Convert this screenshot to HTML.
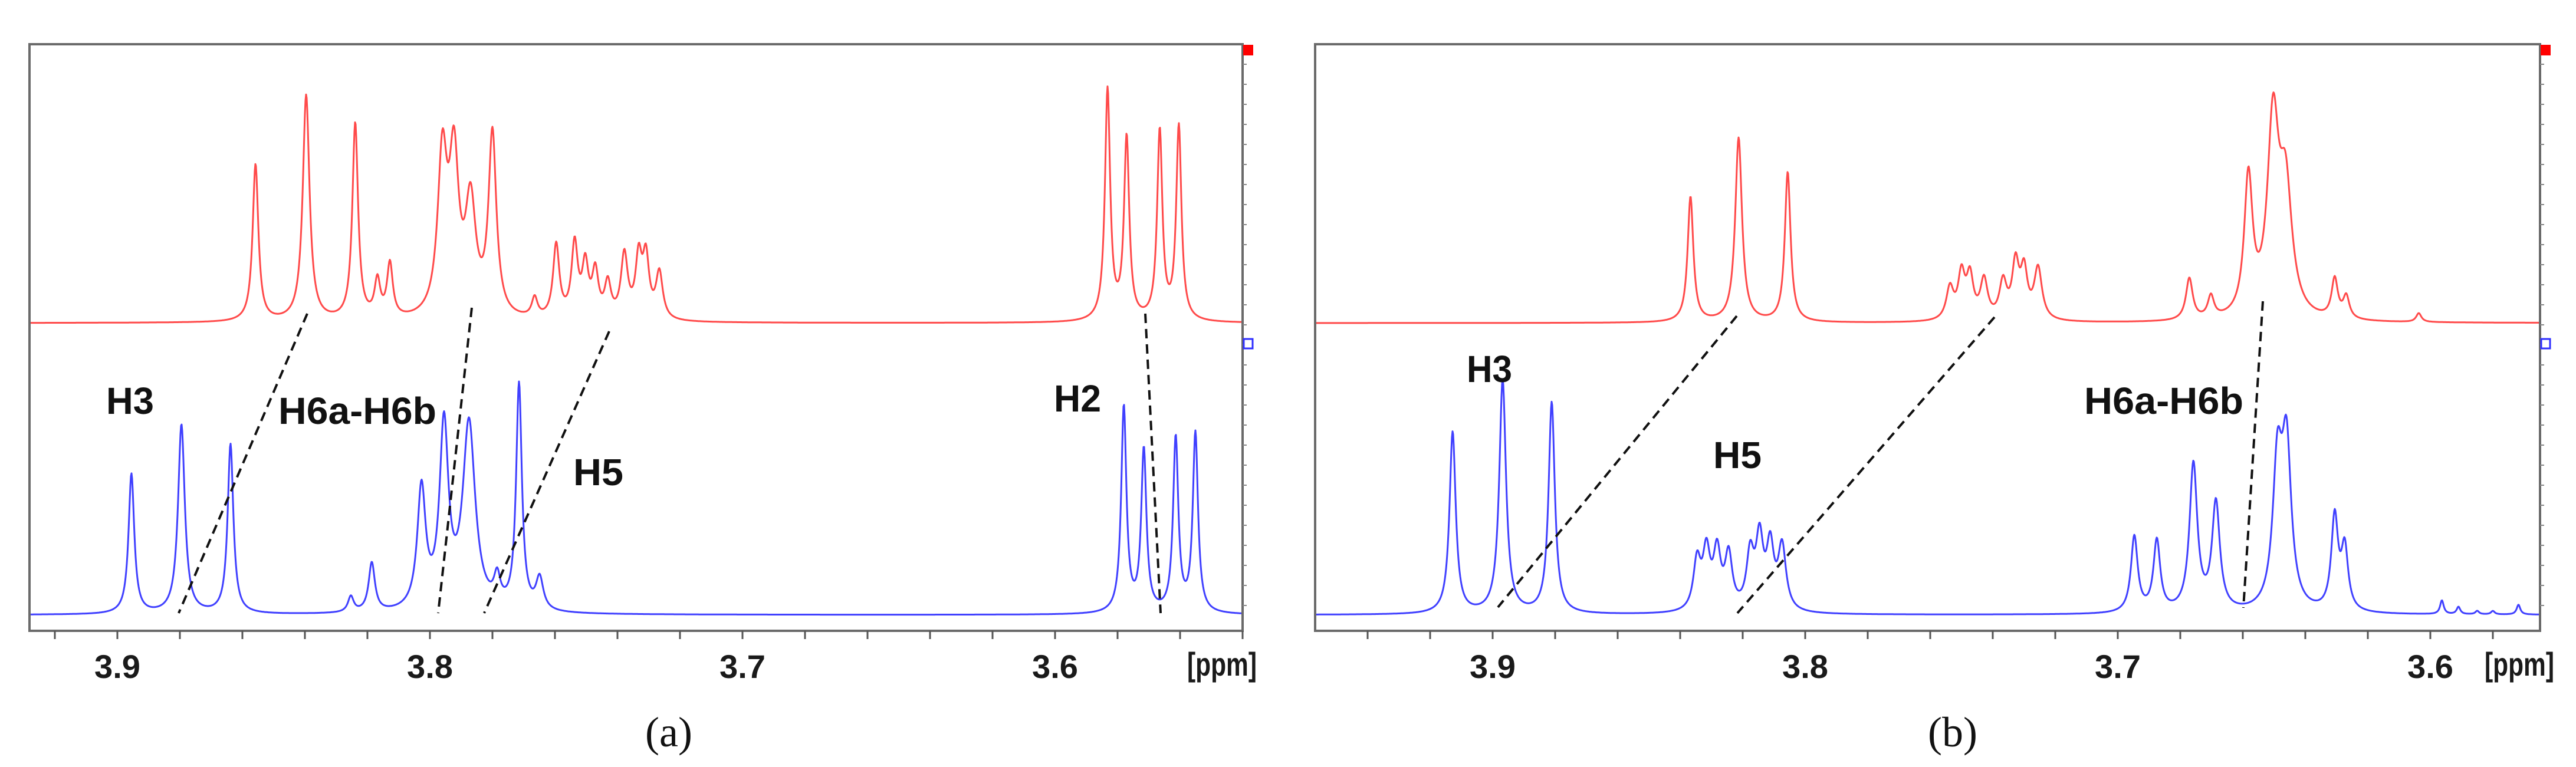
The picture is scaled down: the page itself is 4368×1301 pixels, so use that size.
<!DOCTYPE html>
<html><head><meta charset="utf-8"><style>
html,body{margin:0;padding:0;background:#fff;}
svg{display:block;}
.lbl{font-family:"Liberation Sans",sans-serif;font-weight:bold;fill:#111;}
.tk{font-family:"Liberation Sans",sans-serif;font-weight:bold;fill:#1a1a1a;font-size:56px;}
.cap{font-family:"Liberation Serif",serif;fill:#111;font-size:72px;}
</style></head><body>
<svg id="fig" width="4368" height="1301" viewBox="0 0 4368 1301" xmlns="http://www.w3.org/2000/svg">
<g id="pa"></g>
<g id="pb"></g>
</svg>
<script>
// ---- Panel (a) data: peak positions (ppm), heights (a.u.), widths (ppm half-width)
const aRedPpm = [3.8558,3.8396,3.8239,3.8168,3.8128,3.7960,3.7923,3.7870,3.7800,3.7665,3.7596,3.7537,3.7503,3.7471,3.7431,3.7378,3.7332,3.7309,3.7266,3.5832,3.5771,3.5665,3.5604];
const aRedH   = [320,460,400,75,110,320,305,225,370,40,150,150,105,92,70,130,120,120,95,470,370,385,395];
const aRedW   = [0.0011,0.0013,0.0011,0.0011,0.0011,0.0018,0.0018,0.0020,0.0015,0.0011,0.0012,0.0012,0.0012,0.0012,0.0012,0.0013,0.0012,0.0012,0.0013,0.0010,0.0010,0.0010,0.0010];
const aBluePpm = [3.8955,3.8795,3.8638,3.8253,3.8186,3.8027,3.7955,3.7875,3.7785,3.7715,3.7649,3.5780,3.5716,3.5614,3.5551];
const aBlueH   = [285,385,345,32,100,245,370,380,55,460,65,420,330,355,365];
const aBlueW   = [0.0011,0.0013,0.0011,0.0011,0.0012,0.0016,0.0017,0.0024,0.0012,0.0011,0.0014,0.0010,0.0010,0.0010,0.0010];
// ---- Panel (b) data
const bRedPpm = [3.8367,3.8213,3.8056,3.7537,3.7500,3.7473,3.7428,3.7367,3.7327,3.7300,3.7255,3.6771,3.6702,3.6582,3.6503,3.6463,3.6306,3.6269,3.6037];
const bRedH   = [255,375,305,65,90,85,80,75,110,95,105,85,45,280,390,250,80,45,18];
const bRedW   = [0.0011,0.0013,0.0011,0.0014,0.0013,0.0013,0.0014,0.0014,0.0013,0.0013,0.0015,0.0013,0.0012,0.0016,0.0022,0.0024,0.0012,0.0012,0.0010];
const bBluePpm = [3.9128,3.8968,3.8811,3.8346,3.8316,3.8282,3.8245,3.8176,3.8146,3.8112,3.8074,3.6947,3.6875,3.6758,3.6686,3.6489,3.6460,3.6306,3.6274,3.5963,3.5910,3.5850,3.5800,3.5718];
const bBlueH   = [370,475,430,100,115,115,110,110,140,125,130,155,145,300,220,285,320,190,125,28,15,7,7,20];
const bBlueW   = [0.0012,0.0013,0.0012,0.0014,0.0014,0.0014,0.0014,0.0014,0.0014,0.0014,0.0015,0.0013,0.0013,0.0015,0.0015,0.0018,0.0018,0.0013,0.0013,0.0007,0.0007,0.0007,0.0007,0.0007];
const tickLabels = ["3.9","3.8","3.7","3.6"];
const tickVals = [3.9,3.8,3.7,3.6];

const NS="http://www.w3.org/2000/svg";
function mk(tag, parent, attrs){const e=document.createElementNS(NS,tag);for(const k in attrs)e.setAttribute(k,attrs[k]);parent.appendChild(e);return e;}

function panel(g, o){
  const X = p => o.x39 + (3.9 - p) * 5300;
  const pMin = 3.9 - (o.right - o.x39)/5300, pMax = 3.9 + (o.x39 - o.left)/5300;
  const Y = (base, v) => base - v * 0.833;
  const fr = mk('rect', g, {x:o.left, y:o.top, width:o.right-o.left, height:o.bottom-o.top, fill:'none', stroke:'#6a6a6a', 'stroke-width':4});
  
  
  for(let y=o.top+34; y<o.bottom-10; y+=34){
    const t=mk('line', g, {x1:o.right, x2:o.right+7, y1:y, y2:y, stroke:'#888', 'stroke-width':2});
    
    
  }
  for(let p=3.98; p>=3.52; p-=0.02){
    const pr=Math.round(p*100)/100;
    if(pr>pMax||pr<pMin) continue;
    const t=mk('line', g, {x1:X(pr), x2:X(pr), y1:o.bottom, y2:o.bottom+14, stroke:'#555', 'stroke-width':3});
    
    
  }
  tickVals.forEach((v,i)=>{
    if(v>pMax||v<pMin) return;
    const t=mk('text', g, {x:X(v), y:1150, 'text-anchor':'middle', class:'tk', textLength:78, lengthAdjust:'spacingAndGlyphs'});
    t.textContent=tickLabels[i];
    
    
  });
  const u=mk('text', g, {x:o.right+24, y:1146, 'text-anchor':'end', class:'tk', 'font-size':50, textLength:118, lengthAdjust:'spacingAndGlyphs'});
  u.textContent='[ppm]';
  
  
  function spec(ppms, hs, ws, base, color, name){
    let d='';
    for(let x=o.left+2; x<=o.right-2; x+=1){
      const p = 3.9 - (x - o.x39)/5300;
      let v=0;
      for(let i=0;i<ppms.length;i++){const z=(p-ppms[i])/ws[i]; v+=hs[i]/(1+z*z);}
      d += (d?'L':'M') + x + ' ' + Y(base, v).toFixed(1);
    }
    const pth=mk('path', g, {d:d, fill:'none', stroke:color, 'stroke-width':3, 'stroke-linejoin':'round'});
    
    
  }
  spec(o.rp, o.rh, o.rw, 548, '#ff4a4a', 'red-spectrum');
  spec(o.bp, o.bh, o.bw, 1043, '#4040ff', 'blue-spectrum');
  const rs=mk('rect', g, {x:o.right+1, y:76, width:17, height:18, fill:'#ff0000'});
  
  
  const bs=mk('rect', g, {x:o.right+2, y:575, width:15, height:16, fill:'#fff', stroke:'#3030ff', 'stroke-width':3});
  
  
  o.dash.forEach(l=>{
    const dl=mk('line', g, {x1:l[0], y1:l[1], x2:l[2], y2:l[3], stroke:'#111', 'stroke-width':4, 'stroke-dasharray':'16 10'});
    
    
  });
  o.labels.forEach(l=>{
    const t=mk('text', g, {x:l[1], y:l[2], class:'lbl', 'font-size':64, textLength:l[3], lengthAdjust:'spacingAndGlyphs'});
    t.textContent=l[0];
    
    
  });
  const c=mk('text', g, {x:o.capx, y:1266, 'text-anchor':'middle', class:'cap'});
  c.textContent=o.cap;
  
  
}

panel(document.getElementById('pa'), {left:50, right:2107, top:75, bottom:1070, x39:199,
  rp:aRedPpm, rh:aRedH, rw:aRedW, bp:aBluePpm, bh:aBlueH, bw:aBlueW,
  dash:[[521,532,303,1040],[800,522,743,1040],[1033,562,821,1040],[1942,532,1968,1040]],
  labels:[['H3',180,702,81],['H6a-H6b',472,719,268],['H5',972,823,85],['H2',1787,698,80]],
  capx:1134, cap:'(a)'});
panel(document.getElementById('pb'), {left:2230, right:4307, top:75, bottom:1070, x39:2531,
  rp:bRedPpm, rh:bRedH, rw:bRedW, bp:bBluePpm, bh:bBlueH, bw:bBlueW,
  dash:[[2945,536,2540,1030],[3382,538,2946,1040],[3837,511,3804,1031]],
  labels:[['H3',2487,648,77],['H5',2905,794,82],['H6a-H6b',3534,702,270]],
  capx:3311, cap:'(b)'});
</script>
</body></html>
